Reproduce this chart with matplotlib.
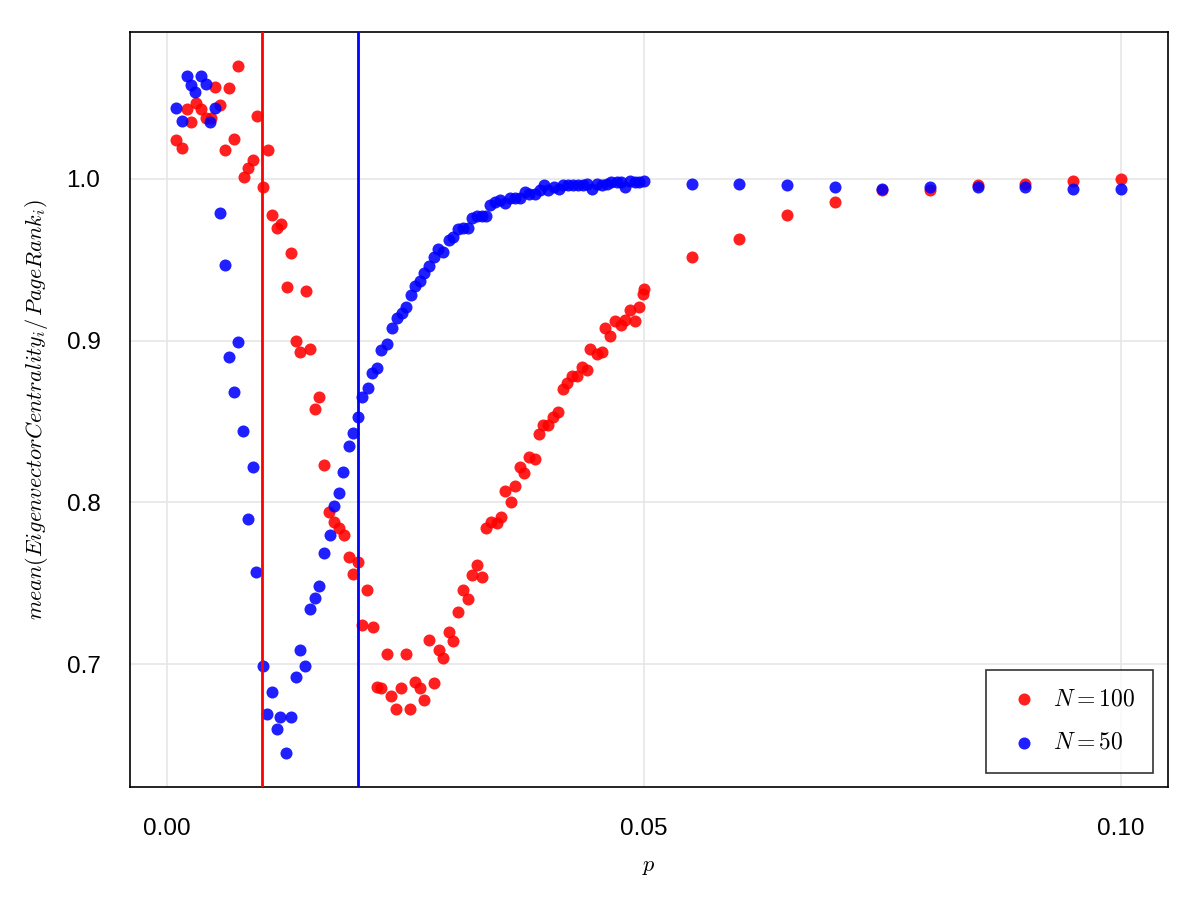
import matplotlib
matplotlib.use("Agg")
import matplotlib.pyplot as plt

plt.rcParams['font.family'] = ['Liberation Sans', 'DejaVu Sans']
plt.rcParams['mathtext.fontset'] = 'cm'

red_x = [.0010,.0016,.0021,.0025,.0031,.0036,.0041,.0046,.0051,.0056,.0061,.0065,.0070,.0075,.0081,.0085,.0090,.0095,.0101,.0106,
         .0110,.0115,.0120,.0126,.0130,.0135,.0140,.0146,.0150,.0155,.0160,.0165,.0170,.0175,.0180,.0186,.0191,.0195,.0200,.0205,
         .0210,.0216,.0220,.0225,.0231,.0235,.0240,.0245,.0251,.0255,.0260,.0265,.0270,.0275,.0280,.0285,.0290,.0296,.0300,.0305,
         .0310,.0316,.0320,.0325,.0330,.0335,.0340,.0346,.0350,.0355,.0361,.0365,.0370,.0374,.0380,.0386,.0390,.0394,.0400,.0405,
         .0410,.0415,.0419,.0425,.0430,.0435,.0440,.0444,.0451,.0456,.0459,.0465,.0470,.0476,.0480,.0485,.0491,.0495,.0499,.0500,
         .055,.060,.065,.070,.075,.080,.085,.090,.095,.100]
red_y = [1.024,1.019,1.043,1.035,1.047,1.043,1.038,1.038,1.057,1.046,1.018,1.056,1.025,1.070,1.001,1.007,1.012,1.039,0.995,1.018,
         0.978,0.970,0.972,0.933,0.954,0.900,0.893,0.931,0.895,0.858,0.865,0.823,0.794,0.788,0.784,0.780,0.766,0.756,0.763,0.724,
         0.746,0.723,0.686,0.685,0.706,0.680,0.672,0.685,0.706,0.672,0.689,0.685,0.678,0.715,0.688,0.709,0.704,0.720,0.714,0.732,
         0.746,0.740,0.755,0.761,0.754,0.784,0.788,0.787,0.791,0.807,0.800,0.810,0.822,0.818,0.828,0.827,0.842,0.848,0.848,0.853,
         0.856,0.870,0.874,0.878,0.878,0.884,0.882,0.895,0.892,0.893,0.908,0.903,0.912,0.910,0.913,0.919,0.912,0.921,0.929,0.932,
         0.952,0.963,0.978,0.986,0.993,0.993,0.996,0.997,0.999,1.000]

blue_x = [.0010,.0016,.0021,.0025,.0030,.0036,.0041,.0045,.0051,.0056,.0061,.0065,.0070,.0075,.0080,.0085,.0090,.0094,.0101,.0105,
          .0110,.0115,.0119,.0125,.0130,.0135,.0140,.0145,.0150,.0155,.0160,.0165,.0171,.0175,.0180,.0185,.0191,.0195,.0200,.0205,
          .0211,.0215,.0220,.0225,.0231,.0236,.0241,.0246,.0251,.0256,.0260,.0265,.0270,.0275,.0280,.0284,.0290,.0296,.0300,.0305,
          .0310,.0316,.0320,.0325,.0330,.0335,.0339,.0344,.0349,.0354,.0360,.0365,.0370,.0375,.0380,.0386,.0391,.0395,.0400,.0406,
          .0411,.0415,.0420,.0426,.0431,.0436,.0440,.0446,.0451,.0456,.0461,.0466,.0472,.0476,.0480,.0485,.0491,.0495,.0500,
          .055,.060,.065,.070,.075,.080,.085,.090,.095,.100]
blue_y = [1.044,1.036,1.064,1.058,1.054,1.064,1.059,1.035,1.044,0.979,0.947,0.890,0.868,0.899,0.844,0.790,0.822,0.757,0.699,0.669,
          0.683,0.660,0.667,0.645,0.667,0.692,0.709,0.699,0.734,0.741,0.748,0.769,0.780,0.798,0.806,0.819,0.835,0.843,0.853,0.865,
          0.871,0.880,0.883,0.894,0.898,0.908,0.914,0.917,0.921,0.928,0.934,0.937,0.942,0.946,0.952,0.957,0.955,0.962,0.964,0.969,
          0.970,0.970,0.976,0.977,0.977,0.977,0.984,0.986,0.987,0.985,0.988,0.988,0.988,0.992,0.991,0.991,0.993,0.996,0.993,0.995,
          0.994,0.996,0.996,0.996,0.996,0.996,0.997,0.994,0.997,0.996,0.997,0.998,0.998,0.998,0.995,0.999,0.998,0.998,0.999,
          0.997,0.997,0.996,0.995,0.994,0.995,0.995,0.995,0.994,0.994]

red_line = 0.01
blue_line = 0.02

fig = plt.figure(figsize=(12, 9), dpi=100)
ax = fig.add_axes([0.108, 0.1256, 0.865, 0.839])
ax.scatter(red_x, red_y, s=75, color=(1, 0, 0), alpha=0.88, linewidths=0, label=r'$N = 100$', zorder=3)
ax.scatter(blue_x, blue_y, s=75, color=(0, 0, 1), alpha=0.88, linewidths=0, label=r'$N = 50$', zorder=3)
ax.axvline(red_line, color='red', lw=2, zorder=4)
ax.axvline(blue_line, color='blue', lw=2, zorder=4)

ax.set_xlim(-0.0039, 0.1049)
ax.set_ylim(0.624, 1.091)
ax.set_xticks([0.0, 0.05, 0.10])
ax.set_xticklabels(['0.00', '0.05', '0.10'])
ax.set_yticks([0.7, 0.8, 0.9, 1.0])
ax.set_yticklabels(['0.7', '0.8', '0.9', '1.0'])
ax.grid(True, color='#e6e6e6', lw=1.2, zorder=0)
ax.tick_params(length=0, labelsize=17.5, pad=12)
ax.tick_params(axis='x', pad=22)
ax.tick_params(axis='y', pad=21)
for s in ax.spines.values():
    s.set_linewidth(1.2)
ax.set_xlabel(r'$p$', fontsize=16, labelpad=12)
ax.set_ylabel(r'$mean(EigenvectorCentrality_i/\,PageRank_i)$', fontsize=16, labelpad=12)
leg = ax.legend(loc='lower right', fontsize=17, frameon=True, fancybox=False,
                edgecolor='black', borderpad=0.8, labelspacing=0.9, handletextpad=0.4,
                markerscale=1.0, borderaxespad=0.6, handlelength=1.6)
leg.get_frame().set_linewidth(1.2)

fig.savefig('out.png', dpi=100)
